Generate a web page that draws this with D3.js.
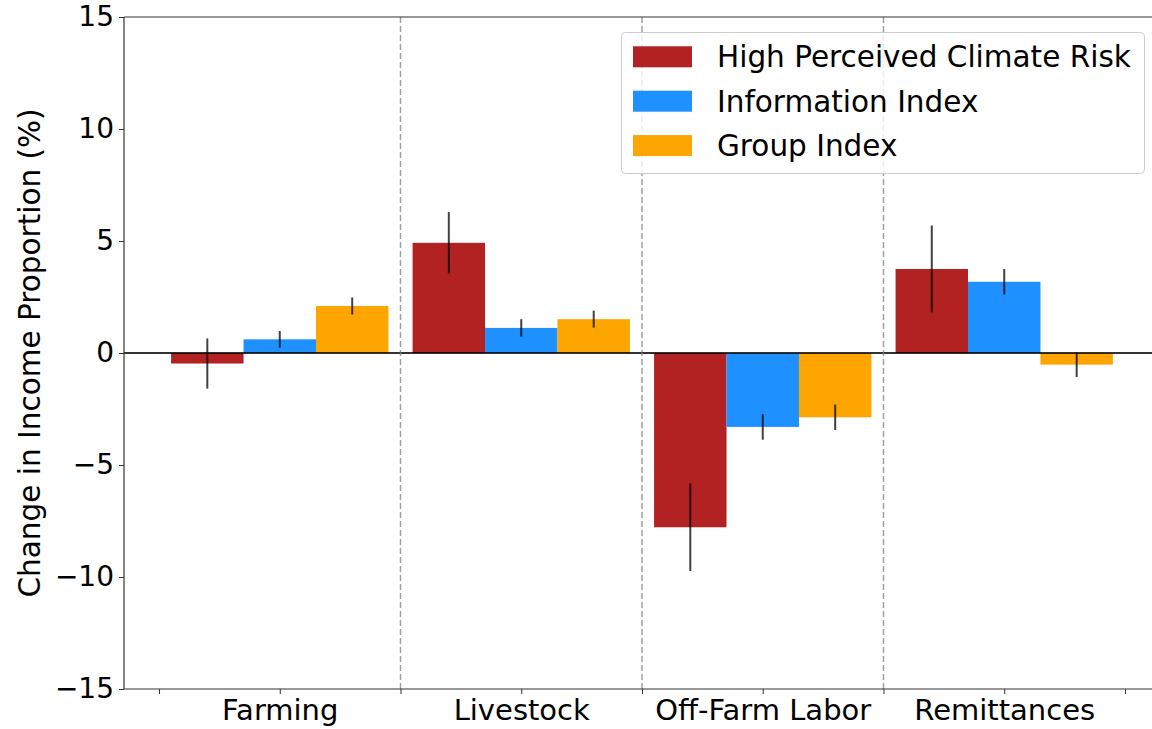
<!DOCTYPE html>
<html>
<head>
<meta charset="utf-8">
<script src="https://cdn.jsdelivr.net/npm/d3@7"></script>
<style>
  html, body { margin: 0; padding: 0; background: #fff; overflow: hidden; }
  svg { display: block; font-family: "DejaVu Sans", sans-serif; }
</style>
</head>
<body>
<svg id="chart" width="1152" height="729"></svg>
<script>
// Income sources (x categories)
const categories = ["Farming", "Livestock", "Off-Farm Labor", "Remittances"];

// Series names and colours
const seriesNames = ["High Perceived Climate Risk", "Information Index", "Group Index"];
const seriesColors = ["#B22222", "#1E90FF", "#FFA500"];

// Estimated change in income proportion (%) per category, one array per series
const climateRisk = [-0.47, 4.92, -7.78, 3.75];
const infoIndex = [0.61, 1.12, -3.30, 3.18];
const groupIndex = [2.10, 1.51, -2.87, -0.52];

// Error-bar half widths for each series
const climateRiskErr = [1.12, 1.37, 1.95, 1.94];
const infoIndexErr = [0.37, 0.39, 0.57, 0.57];
const groupIndexErr = [0.38, 0.38, 0.57, 0.55];

// Y-axis tick values
const yTicks = [-15, -10, -5, 0, 5, 10, 15];

const seriesValues = [climateRisk, infoIndex, groupIndex];
const seriesErrors = [climateRiskErr, infoIndexErr, groupIndexErr];

const svg = d3.select("#chart");

const plotLeft = 124, plotRight = 1160, plotTop = 17, plotBottom = 689;
const barWidth = 0.3;

const x = d3.scaleLinear().domain([-0.645, categories.length - 1 + 0.645]).range([plotLeft, plotRight]);
const y = d3.scaleLinear().domain([-15, 15]).range([plotBottom, plotTop]);

// Flatten into bar records
const bars = [];
seriesValues.forEach((vals, s) => {
  vals.forEach((v, i) => {
    bars.push({ s, i, v, err: seriesErrors[s][i], pos: i + (s - 1) * barWidth });
  });
});

// Bars
svg.append("g").selectAll("rect").data(bars).join("rect")
  .attr("x", d => x(d.pos - barWidth / 2))
  .attr("width", d => x(d.pos + barWidth / 2) - x(d.pos - barWidth / 2))
  .attr("y", d => y(Math.max(0, d.v)))
  .attr("height", d => Math.abs(y(d.v) - y(0)))
  .attr("fill", d => seriesColors[d.s]);

// Error bars
svg.append("g").selectAll("line").data(bars).join("line")
  .attr("x1", d => x(d.pos)).attr("x2", d => x(d.pos))
  .attr("y1", d => y(d.v - d.err)).attr("y2", d => y(d.v + d.err))
  .attr("stroke", "#000").attr("stroke-opacity", 0.75).attr("stroke-width", 2);

// Zero line
svg.append("line")
  .attr("x1", plotLeft).attr("x2", plotRight)
  .attr("y1", y(0)).attr("y2", y(0))
  .attr("stroke", "#000").attr("stroke-opacity", 0.8).attr("stroke-width", 2);

// Dashed separators between categories
const separators = d3.range(categories.length - 1).map(i => i + 0.5);
svg.append("g").selectAll("line").data(separators).join("line")
  .attr("x1", d => x(d)).attr("x2", d => x(d))
  .attr("y1", plotTop).attr("y2", plotBottom)
  .attr("stroke", "#808080").attr("stroke-opacity", 0.75)
  .attr("stroke-width", 1.5).attr("stroke-dasharray", "6,3");

// Y axis
const yAxis = svg.append("g")
  .attr("transform", `translate(${plotLeft},0)`)
  .call(d3.axisLeft(y).tickValues(yTicks).tickSize(5).tickPadding(5));
yAxis.select(".domain").remove();
yAxis.selectAll("text").attr("font-size", 28).attr("fill", "#000")
  .attr("font-family", "DejaVu Sans");
yAxis.selectAll("line").attr("stroke", "#333");

// X axis ticks every half category; labels only at category centres
const xTickVals = d3.range(-0.5, categories.length, 0.5);
const xAxis = svg.append("g")
  .attr("transform", `translate(0,${plotBottom})`)
  .call(d3.axisBottom(x).tickValues(xTickVals).tickSize(5).tickPadding(5)
    .tickFormat(d => Number.isInteger(d) ? categories[d] : ""));
xAxis.select(".domain").remove();
xAxis.selectAll("text").attr("font-size", 29).attr("fill", "#000")
  .attr("font-family", "DejaVu Sans");
xAxis.selectAll("line").attr("stroke", "#333");

// Frame
const frame = svg.append("g").attr("fill", "none").attr("stroke", "#333").attr("stroke-width", 1.2);
frame.append("line").attr("x1", plotLeft).attr("x2", plotLeft).attr("y1", plotTop).attr("y2", plotBottom);
frame.append("line").attr("x1", plotLeft).attr("x2", plotRight).attr("y1", plotTop).attr("y2", plotTop);
frame.append("line").attr("x1", plotLeft).attr("x2", plotRight).attr("y1", plotBottom).attr("y2", plotBottom);
frame.append("line").attr("x1", plotRight).attr("x2", plotRight).attr("y1", plotTop).attr("y2", plotBottom);

// Y-axis title
svg.append("text")
  .attr("transform", `translate(40,${(plotTop + plotBottom) / 2}) rotate(-90)`)
  .attr("text-anchor", "middle")
  .attr("font-size", 29.5)
  .attr("fill", "#000")
  .text("Change in Income Proportion (%)");

// Legend
const legend = svg.append("g");
legend.append("rect")
  .attr("x", 621.5).attr("y", 32.5).attr("width", 523).attr("height", 141)
  .attr("rx", 4)
  .attr("fill", "#fff").attr("fill-opacity", 0.8)
  .attr("stroke", "#ccc").attr("stroke-width", 1);
const items = legend.selectAll("g.item").data(seriesNames).join("g")
  .attr("class", "item")
  .attr("transform", (d, i) => `translate(633,${46.3 + i * 44.4})`);
items.append("rect").attr("width", 59).attr("height", 21)
  .attr("fill", (d, i) => seriesColors[i]);
items.append("text").attr("x", 84).attr("y", 10.5).attr("dy", "0.35em")
  .attr("font-size", 29.5).attr("fill", "#000").text(d => d);
</script>
</body>
</html>
